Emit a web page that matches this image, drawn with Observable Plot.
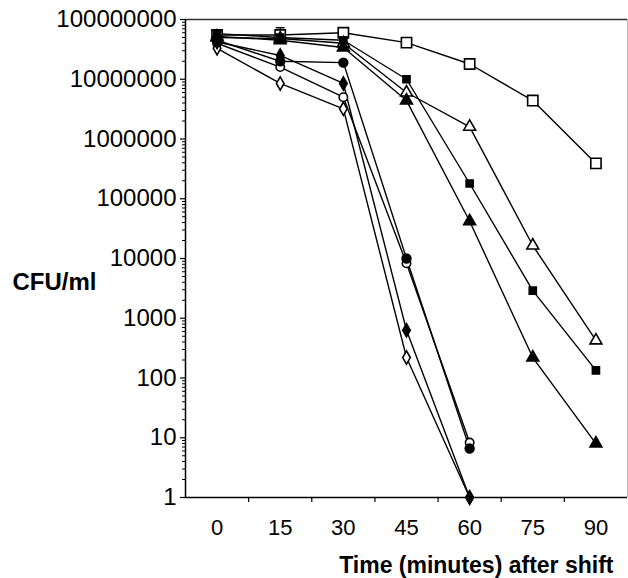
<!DOCTYPE html>
<html><head><meta charset="utf-8">
<script src="https://cdn.jsdelivr.net/npm/d3@7"></script>
<script src="https://cdn.jsdelivr.net/npm/@observablehq/plot@0.6"></script>
<style>body{margin:0;background:#fff;} svg{display:block;}</style>
</head><body><div id="chart"></div>
<script>
// Categories (minutes after shift)
const times = [0, 15, 30, 45, 60, 75, 90];
// Series values, CFU/ml (null = not measured)
const openSquare     = [5.5e7, 5.5e7, 6.0e7, 4.1e7, 1.8e7, 4.4e6, 3.9e5];
const openSquareHigh = [null, 7.3e7, null, null, null, null, null];
const openTriangle   = [5.0e7, 4.8e7, 4.0e7, 6.0e6, 1.6e6, 1.65e4, 425];
const filledSquare   = [5.8e7, 5.0e7, 4.5e7, 1.0e7, 1.8e5, 2900, 134];
const filledTriangle = [5.2e7, 4.5e7, 3.4e7, 4.4e6, 4.2e4, 220, 8];
const filledCircle   = [4.5e7, 2.0e7, 1.9e7, 1.0e4, 6.6, null, null];
const openCircle     = [4.0e7, 1.6e7, 5.0e6, 8300, 8.3, null, null];
const filledDiamond  = [4.2e7, 2.5e7, 8.5e6, 630, 1, null, null];
const openDiamond    = [3.3e7, 8.5e6, 3.2e6, 220, 1, null, null];
// Axis tick labels
const yTicks = [1, 10, 100, 1000, 10000, 100000, 1000000, 10000000, 100000000];
const xTicks = [0, 15, 30, 45, 60, 75, 90];

const series = [
  {name: "openSquare",     values: openSquare,     symbol: "square",   fill: "white", r: 5.8},
  {name: "openTriangle",   values: openTriangle,   symbol: "triangle", fill: "white", r: 4.4},
  {name: "openCircle",     values: openCircle,     symbol: "circle",   fill: "white", r: 4.2},
  {name: "openDiamond",    values: openDiamond,    symbol: "diamond",  fill: "white", r: 4.0},
  {name: "filledSquare",   values: filledSquare,   symbol: "square",   fill: "black", r: 4.0},
  {name: "filledTriangle", values: filledTriangle, symbol: "triangle", fill: "black", r: 4.4},
  {name: "filledCircle",   values: filledCircle,   symbol: "circle",   fill: "black", r: 4.4},
  {name: "filledDiamond",  values: filledDiamond,  symbol: "diamond",  fill: "black", r: 4.0}
];
const rows = series.flatMap(s => times.map((t, i) => ({series: s.name, time: t, cfu: s.values[i]})).filter(d => d.cfu != null));
const errRows = times.map((t, i) => ({time: t, lo: openSquare[i], hi: openSquareHigh[i]})).filter(d => d.hi != null);

const minorTicks = [];
for (let k = 0; k < 8; k++) for (let m = 2; m <= 9; m++) minorTicks.push(m * Math.pow(10, k));
const bandEdges = xTicks.slice(0, -1).map(t => t + 7.5);

const capSymbol = {draw(ctx, size) { const w = Math.sqrt(size); ctx.moveTo(-w / 2, 0); ctx.lineTo(w / 2, 0); }};

const font = "'Liberation Sans', Arial, sans-serif";

const chart = Plot.plot({
  width: 628, height: 578,
  marginLeft: 185, marginRight: 1, marginTop: 19, marginBottom: 81,
  style: {fontFamily: font, background: "white", color: "black"},
  x: {type: "linear", domain: [-7.5, 97.5], axis: null},
  y: {type: "log", domain: [1, 1e8], axis: null},
  marks: [
    Plot.ruleY([1e8], {stroke: "#333", strokeWidth: 1.5}),
    Plot.ruleX([97.5], {stroke: "#bbb", strokeWidth: 1}),
    Plot.axisY(minorTicks, {anchor: "left", tickSize: 3, tickFormat: () => "", label: null, strokeWidth: 1}),
    Plot.axisY(yTicks, {anchor: "left", tickSize: 5, tickPadding: 4, tickFormat: d => String(d), label: null, fontSize: 24, strokeWidth: 1.2}),
    Plot.axisX(bandEdges, {anchor: "bottom", tickSize: 5, tickFormat: () => "", label: null, strokeWidth: 1.2}),
    Plot.axisX(xTicks, {anchor: "bottom", tickSize: 0, tickPadding: 22, tickFormat: d => String(d), label: null, fontSize: 22}),
    Plot.ruleX([-7.5], {stroke: "black", strokeWidth: 1.5}),
    Plot.ruleY([1], {stroke: "black", strokeWidth: 1.5}),
    Plot.line(rows, {x: "time", y: "cfu", z: "series", stroke: "black", strokeWidth: 1.4}),
    Plot.ruleX(errRows, {x: "time", y1: "lo", y2: "hi", stroke: "black", strokeWidth: 1.3}),
    Plot.dot(errRows, {x: "time", y: "hi", symbol: capSymbol, r: 5, stroke: "black", strokeWidth: 1.5}),
    ...series.map(s => Plot.dot(rows.filter(d => d.series === s.name), {
      x: "time", y: "cfu", symbol: s.symbol, r: s.r, fill: s.fill, stroke: "black", strokeWidth: 1.6
    })),
    Plot.text(["CFU/ml"], {frameAnchor: "left", dx: -173, dy: 24, textAnchor: "start", fontSize: 24, fontWeight: "bold"}),
    Plot.text(["Time (minutes) after shift"], {frameAnchor: "bottom-right", dx: -14, dy: 75, textAnchor: "end", fontSize: 23, fontWeight: "bold"})
  ]
});
document.getElementById("chart").appendChild(chart);
</script>
</body></html>
